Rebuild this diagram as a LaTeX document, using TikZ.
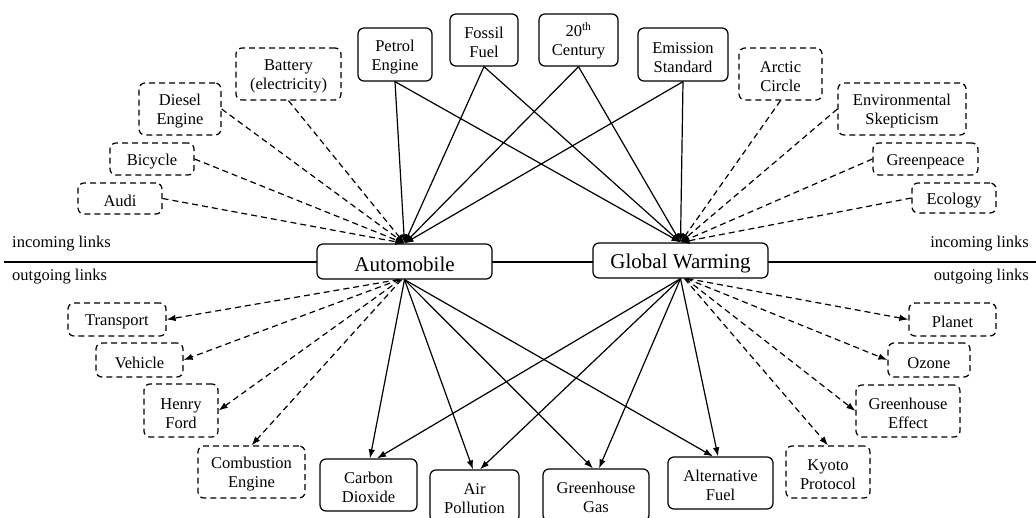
\documentclass[tikz,border=0pt]{standalone}
\usepackage{fontspec}
\setmainfont{Liberation Serif}
\usetikzlibrary{arrows.meta}
\newcommand\tstrut{\rule{0pt}{1.0em}}
\begin{document}
\begin{tikzpicture}[x=1pt,y=-1pt,
 box/.style={draw, rounded corners=6pt, line width=1.25pt, fill=white, align=center, inner sep=0pt, font=\fontsize{16.5}{19}\selectfont, execute at begin node={\tstrut}},
 dbox/.style={box, dash pattern=on 6pt off 4pt},
 big/.style={box, font=\fontsize{21}{24}\selectfont},
 sz/.style 2 args={minimum width=#1pt, minimum height=#2pt},
 link/.style={line width=1.2pt, -{Latex[length=9pt,width=6.5pt]}},
 dlink/.style={link, dash pattern=on 6pt off 4pt},
 lab/.style={font=\fontsize{16.5}{19}\selectfont, inner sep=0pt}]
\useasboundingbox (0,0) rectangle (1036,517);
\draw[line width=2.8pt] (4,262) coordinate (lineL) -- (1036,262) coordinate (lineR);
% labels
\node[lab, anchor=west] (inL) at (12,244) {incoming links};
\node[lab, anchor=west] (outL) at (12,277) {outgoing links};
\node[lab, anchor=east] (inR) at (1029,244) {incoming links};
\node[lab, anchor=east] (outR) at (1029,277) {outgoing links};
% main nodes
\node[big, sz={175}{35}] (auto) at (404.5,261.5) {Automobile};
\node[big, sz={175}{35}] (gw) at (680.5,260.5) {Global Warming};
% top solid
\node[box, sz={74}{53}] (pe) at (395,54.5) {\tstrut Petrol\\Engine};
\node[box, sz={68}{52}] (ff) at (484,40) {\tstrut Fossil\\Fuel};
\node[box, sz={79}{52}] (tc) at (578.5,40) {\tstrut 20\textsuperscript{th}\\Century};
\node[box, sz={90}{53}] (es) at (683,54.5) {\tstrut Emission\\Standard};
% top dashed left
\node[dbox, sz={105}{52}] (bat) at (288.5,74) {\tstrut Battery\\(electricity)};
\node[dbox, sz={82}{52}] (die) at (180,109) {\tstrut Diesel\\Engine};
\node[dbox, sz={84}{32}] (bic) at (152,159) {Bicycle};
\node[dbox, sz={84}{31}] (audi) at (120,198.5) {Audi};
% top dashed right
\node[dbox, sz={83}{52}] (arc) at (780.5,74) {\tstrut Arctic\\Circle};
\node[dbox, sz={128}{52}] (env) at (902,109) {\tstrut Environmental\\Skepticism};
\node[dbox, sz={105}{32}] (gp) at (925.5,159) {Greenpeace};
\node[dbox, sz={84}{30}] (eco) at (954,198) {Ecology};
% bottom dashed left
\node[dbox, sz={98}{33}] (tr) at (117,319.5) {Transport};
\node[dbox, sz={87}{34}] (veh) at (139.5,360) {Vehicle};
\node[dbox, sz={74}{53}] (hf) at (181,410.5) {\tstrut Henry\\Ford};
\node[dbox, sz={107}{52}] (ce) at (251.5,472) {\tstrut Combustion\\Engine};
% bottom solid
\node[box, sz={97}{52}] (cd) at (368.5,485) {\tstrut Carbon\\Dioxide};
\node[box, sz={89}{52}] (ap) at (474.5,496) {\tstrut Air\\Pollution};
\node[box, sz={106}{52}] (gg) at (596,495) {\tstrut Greenhouse\\Gas};
\node[box, sz={105}{52}] (af) at (720.5,483) {\tstrut Alternative\\Fuel};
% bottom dashed right
\node[dbox, sz={84}{52}] (ky) at (828,472) {\tstrut Kyoto\\Protocol};
\node[dbox, sz={104}{52}] (ge) at (908,411) {\tstrut Greenhouse\\Effect};
\node[dbox, sz={82}{34}] (oz) at (929,360) {Ozone};
\node[dbox, sz={87}{33}] (pl) at (952.5,319.5) {Planet};
% incoming solid
\foreach \s in {pe,ff,tc,es} {
  \draw[link] (\s.south) -- (auto.north);
  \draw[link] (\s.south) -- (gw.north);
}
% incoming dashed
\draw[dlink] (bat.south) -- (auto.north);
\draw[dlink] (die.east) -- (auto.north);
\draw[dlink] (bic.east) -- (auto.north);
\draw[dlink] (audi.east) -- (auto.north);
\draw[dlink] (arc.south) -- (gw.north);
\draw[dlink] (env.west) -- (gw.north);
\draw[dlink] (gp.west) -- (gw.north);
\draw[dlink] (eco.west) -- (gw.north);
% outgoing solid
\draw[link] (auto.south) -- ([xshift=1.5pt]cd.north);
\draw[link] (gw.south) -- ([xshift=8.5pt]cd.north);
\draw[link] (auto.south) -- ([xshift=-1.5pt]ap.north);
\draw[link] (gw.south) -- ([xshift=5.5pt]ap.north);
\draw[link] (auto.south) -- ([xshift=-3pt]gg.north);
\draw[link] (gw.south) -- ([xshift=3pt]gg.north);
\draw[link] (auto.south) -- ([xshift=-7.5pt]af.north);
\draw[link] (gw.south) -- ([xshift=-2.5pt]af.north);
% outgoing dashed
\draw[dlink] ([xshift=-6pt]auto.south) -- (tr.east);
\draw[dlink] ([xshift=-5pt]auto.south) -- (veh.east);
\draw[dlink] ([xshift=-4pt]auto.south) -- (hf.east);
\draw[dlink] ([xshift=-3pt]auto.south) -- (ce.north);
\draw[dlink] ([xshift=7pt]gw.south) -- (pl.west);
\draw[dlink] ([xshift=6pt]gw.south) -- (oz.west);
\draw[dlink] ([xshift=5pt]gw.south) -- (ge.west);
\draw[dlink] ([xshift=4pt]gw.south) -- (ky.north);
\end{tikzpicture}
\end{document}
